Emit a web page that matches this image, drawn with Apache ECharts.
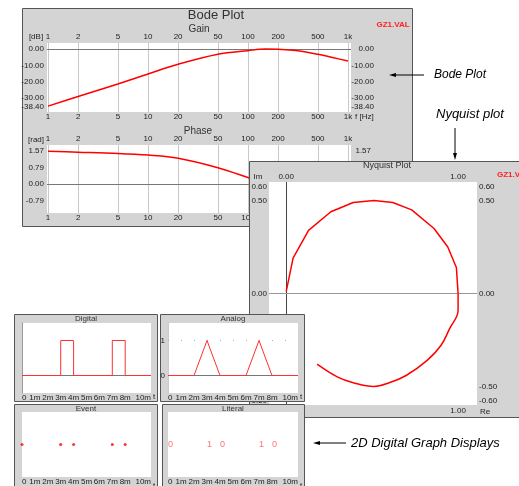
<!DOCTYPE html>
<html><head><meta charset="utf-8">
<script src="https://cdn.jsdelivr.net/npm/echarts@6/dist/echarts.min.js"></script>
<style>html,body{margin:0;padding:0;background:#fff}#c{width:519px;height:486px}</style>
</head><body><div id="c"></div>
<script>
// ---- data ----
const bodeFreqTicks = [1, 2, 5, 10, 20, 50, 100, 200, 500, 1000];
const gainFreq = [1, 2, 5, 10, 20, 50, 100, 150, 200, 300, 500, 700, 1000];
const gainDb = [-34.8, -29.0, -21.3, -15.2, -9.3, -3.2, -1.0, -0.05, -0.2, -0.9, -3.2, -5.2, -7.3];
const gainTicks = [-38.4, -30, -20, -10, 0];
const phaseFreq = [1, 2, 5, 10, 20, 50, 100, 150, 200, 500, 1000];
const phaseRad = [1.56, 1.52, 1.46, 1.38, 1.23, 0.78, 0.31, 0.02, -0.22, -0.78, -1.14];
const phaseTicks = [-0.79, 0, 0.79, 1.57];
// Nyquist: upper half (coarse polyline) and lower half (fine, smooth)
const nyqUpperRe = [0.00, 0.04, 0.13, 0.26, 0.39, 0.51, 0.62, 0.73, 0.86, 0.94, 0.99, 1.00];
const nyqUpperIm = [0.01, 0.19, 0.34, 0.44, 0.49, 0.50, 0.49, 0.45, 0.35, 0.25, 0.14, 0.00];
const nyqLowerRe = [1.00, 1.00, 0.95, 0.90, 0.82, 0.70, 0.60, 0.51, 0.39, 0.30, 0.18];
const nyqLowerIm = [0.00, -0.09, -0.19, -0.28, -0.36, -0.44, -0.48, -0.50, -0.48, -0.45, -0.38];
const nyqXTicks = [0, 1];
const nyqYTicks = [-0.6, -0.5, 0, 0.5, 0.6];
const timeTicks = [0, 1, 2, 3, 4, 5, 6, 7, 8, 10];
const digitalT = [0, 3, 4, 7, 8, 10];
const digitalV = [0, 1, 0, 1, 0, 0];
const analogT = [0, 2, 3, 4, 6, 7, 8, 10];
const analogV = [0, 0, 1, 0, 0, 1, 0, 0];
const analogTicks = [0, 1];
const eventT = [0, 3, 4, 7, 8];
const literalT = [0, 3, 4, 7, 8];
const literalText = ['0', '1', '0', '1', '0'];

// ---- helpers ----
const FONT = "'Liberation Sans', Arial, sans-serif";
const zip = (a, b) => a.map((v, i) => [v, b[i]]);
const L = (o) => Object.assign({ fontSize: 8, fontFamily: FONT, color: '#222' }, o || {});
const fmtF = v => v >= 1000 ? (v / 1000) + 'k' : String(Math.round(v));
const fmt2 = v => Number(v).toFixed(2);
const fmtT = v => v === 0 ? '0' : v + 'm';
const off = { show: false };
const near = (a, b) => Math.abs(a - b) < 1e-6;

function ax(o) {
  return Object.assign({ axisLine: off, axisTick: off, splitLine: off, minorTick: off, minorSplitLine: off }, o);
}
function freqAxis(grid, pos, split, z, margin) {
  return ax({
    type: 'log', logBase: 10, gridIndex: grid, position: pos, min: 0.977, max: 1072, z: z,
    axisTick: { show: false, customValues: bodeFreqTicks },
    axisLabel: L({ customValues: bodeFreqTicks, formatter: fmtF, margin: margin }),
    splitLine: { show: split, lineStyle: { color: '#c8c8c8', width: 1 } }
  });
}
function timeAxis(grid, z, margin) {
  return ax({
    type: 'value', gridIndex: grid, min: 0, max: 10, z: z,
    axisTick: { show: false, customValues: timeTicks },
    axisLabel: L({ customValues: timeTicks, formatter: fmtT, margin: margin, alignMaxLabel: 'right', alignMinLabel: 'left' })
  });
}
const richBase = { fontSize: 8, fontFamily: FONT, color: '#222' };
const gainFmt = v => near(v, -38.4) ? '{lo|-38.40}' : fmt2(v);
const gainRich = { lo: Object.assign({ padding: [0, 0, 10, 0] }, richBase) };
const nyqYFmt = v => near(v, 0.6) ? '{hi|0.60}' : near(v, -0.6) ? '{lo|-0.60}' : fmt2(v);
const nyqRich = { hi: Object.assign({ padding: [10, 0, 0, 0] }, richBase), lo: Object.assign({ padding: [0, 0, 8, 0] }, richBase) };

// ---- graphics ----
function rect(x, y, w, h, z, fill, stroke) {
  return { type: 'rect', z: z, silent: true, shape: { x: x, y: y, width: w, height: h },
    style: { fill: fill || '#d4d4d4', stroke: stroke || '#555', lineWidth: 1 } };
}
function txt(t, x, y, z, font, fill, align) {
  return { type: 'text', z: z, silent: true, x: x, y: y,
    style: { text: t, font: font, fill: fill || '#222', textAlign: align || 'center', textVerticalAlign: 'middle' } };
}
function line(x1, y1, x2, y2, z) {
  return { type: 'line', z: z, silent: true, shape: { x1: x1, y1: y1, x2: x2, y2: y2 }, style: { stroke: '#000', lineWidth: 1 } };
}
function poly(pts, z) {
  return { type: 'polygon', z: z, silent: true, shape: { points: pts }, style: { fill: '#000' } };
}
const f8 = "8px " + FONT;
const graphics = [
  rect(22.5, 8.5, 390, 218, 1),
  txt('Bode Plot', 216, 15, 1.5, "13px " + FONT, '#333'),
  txt('GZ1.VAL', 393, 25, 1.5, "bold 8px " + FONT, '#ff2020'),
  txt('Gain', 199, 29, 1.5, "10px " + FONT, '#333'),
  txt('[dB]', 36, 37, 1.5, f8),
  txt('f [Hz]', 355, 117, 1.5, f8, '#222', 'left'),
  txt('Phase', 198, 131, 1.5, "10px " + FONT, '#333'),
  txt('[rad]', 36, 140, 1.5, f8),
  txt('f [Hz]', 355, 218, 1.5, f8, '#222', 'left'),

  rect(249.5, 161.5, 290, 256, 10),
  txt('Nyquist Plot', 387, 166, 10.5, "9px " + FONT, '#333'),
  txt('GZ1.VAL', 497, 175, 10.5, "bold 8px " + FONT, '#ff2020', 'left'),
  txt('Im', 258, 177, 10.5, f8),
  txt('Re', 485, 412, 10.5, f8),

  rect(14.5, 314.5, 143, 87, 20),
  rect(160.5, 314.5, 144, 87, 20),
  rect(14.5, 404.5, 143, 95, 20),
  rect(162.5, 404.5, 142, 95, 20),
  txt('Digital', 86, 319, 20.5, f8, '#333'),
  txt('Analog', 233, 319, 20.5, f8, '#333'),
  txt('Event', 86, 409, 20.5, f8, '#333'),
  txt('Literal', 233, 409, 20.5, f8, '#333'),
  txt('t', 154, 397, 20.5, f8),
  txt('t', 301, 397, 20.5, f8),
  txt('t', 154, 486, 20.5, f8),
  txt('t', 301, 486, 20.5, f8),

  txt('Bode Plot', 434, 75, 30, "italic 12px " + FONT, '#000', 'left'),
  line(392, 75, 424, 75, 30), poly([[389, 75], [396, 73], [396, 77]], 30),
  txt('Nyquist plot', 436, 114, 30, "italic 13px " + FONT, '#000', 'left'),
  line(455, 128, 455, 156, 30), poly([[455, 160], [453, 153], [457, 153]], 30),
  txt('2D Digital Graph Displays', 351, 443, 30, "italic 13px " + FONT, '#000', 'left'),
  line(316, 443, 346, 443, 30), poly([[313, 443], [320, 441], [320, 445]], 30)
];

// ---- grids ----
const grid = [
  { left: 47, top: 43, width: 304, height: 69, z: 2 },
  { left: 47, top: 145, width: 304, height: 68, z: 2 },
  { left: 269, top: 182, width: 208, height: 223, z: 11 },
  { left: 22, top: 323, width: 129, height: 70, z: 21 },
  { left: 168, top: 323, width: 130, height: 70, z: 21 },
  { left: 22, top: 412, width: 129, height: 69, z: 21 },
  { left: 168, top: 412, width: 130, height: 69, z: 21 }
].map(g => Object.assign({ show: true, backgroundColor: '#fff', borderWidth: 0 }, g));

const xAxis = [
  freqAxis(0, 'bottom', true, 3, 1),
  freqAxis(0, 'top', false, 3, 2),
  freqAxis(1, 'bottom', true, 3, 1),
  freqAxis(1, 'top', false, 3, 2),
  ax({ type: 'value', gridIndex: 2, position: 'bottom', min: -0.1, max: 1.11, z: 12,
       axisTick: { show: false, customValues: nyqXTicks }, axisLabel: L({ customValues: nyqXTicks, formatter: fmt2, margin: 2 }) }),
  ax({ type: 'value', gridIndex: 2, position: 'top', min: -0.1, max: 1.11, z: 12,
       axisTick: { show: false, customValues: nyqXTicks }, axisLabel: L({ customValues: nyqXTicks, formatter: fmt2, margin: 1 }) }),
  timeAxis(3, 22, 1), timeAxis(4, 22, 1), timeAxis(5, 22, 1), timeAxis(6, 22, 1)
];

const yAxis = [
  ax({ type: 'value', gridIndex: 0, position: 'left', min: -38.4, max: 3.66, z: 3,
       axisTick: { show: false, customValues: gainTicks }, axisLabel: L({ customValues: gainTicks, formatter: gainFmt, rich: gainRich, margin: 3 }) }),
  ax({ type: 'value', gridIndex: 0, position: 'right', min: -38.4, max: 3.66, z: 3,
       axisTick: { show: false, customValues: gainTicks }, axisLabel: L({ customValues: gainTicks, formatter: gainFmt, rich: gainRich, margin: 23, align: 'right' }) }),
  ax({ type: 'value', gridIndex: 1, position: 'left', min: -1.38, max: 1.86, z: 3,
       axisTick: { show: false, customValues: phaseTicks }, axisLabel: L({ customValues: phaseTicks, formatter: fmt2, margin: 3 }) }),
  ax({ type: 'value', gridIndex: 1, position: 'right', min: -1.38, max: 1.86, z: 3,
       axisTick: { show: false, customValues: phaseTicks }, axisLabel: L({ customValues: phaseTicks, formatter: fmt2, margin: 20, align: 'right' }) }),
  ax({ type: 'value', gridIndex: 2, position: 'left', min: -0.6, max: 0.6, z: 12,
       axisTick: { show: false, customValues: nyqYTicks }, axisLabel: L({ customValues: nyqYTicks, formatter: nyqYFmt, rich: nyqRich, margin: 2 }) }),
  ax({ type: 'value', gridIndex: 2, position: 'right', min: -0.6, max: 0.6, z: 12,
       axisTick: { show: false, customValues: nyqYTicks }, axisLabel: L({ customValues: nyqYTicks, formatter: nyqYFmt, rich: nyqRich, margin: 2 }) }),
  ax({ type: 'value', gridIndex: 3, min: -0.5, max: 1.5, z: 22, axisLabel: { show: false },
       axisLine: { show: true, onZero: false, lineStyle: { color: '#999' } } }),
  ax({ type: 'value', gridIndex: 4, min: -0.5, max: 1.5, z: 22,
       axisTick: { show: false, customValues: analogTicks }, axisLabel: L({ customValues: analogTicks, margin: 3 }),
       axisLine: { show: true, onZero: false, lineStyle: { color: '#ccc' } } }),
  ax({ type: 'value', gridIndex: 5, min: -1, max: 1, z: 22, axisLabel: { show: false } }),
  ax({ type: 'value', gridIndex: 6, min: -1, max: 1, z: 22, axisLabel: { show: false } })
];

function zeroLine(z, items) {
  return { silent: true, symbol: 'none', z: z, animation: false, label: { show: false }, data: items };
}
const red = { color: '#ff0000', width: 1.5 };
const series = [
  { type: 'line', xAxisIndex: 0, yAxisIndex: 0, z: 4, data: zip(gainFreq, gainDb), smooth: 0.35, showSymbol: false,
    lineStyle: red,
    markLine: zeroLine(3.5, [{ yAxis: 0, lineStyle: { color: '#777', width: 1, type: 'solid' } }]) },
  { type: 'line', xAxisIndex: 2, yAxisIndex: 2, z: 4, data: zip(phaseFreq, phaseRad), smooth: 0.35, showSymbol: false,
    lineStyle: red,
    markLine: zeroLine(3.5, [{ yAxis: 0, lineStyle: { color: '#777', width: 1, type: 'solid' } }]) },
  { type: 'line', xAxisIndex: 4, yAxisIndex: 4, z: 13, data: zip(nyqUpperRe, nyqUpperIm), showSymbol: false,
    lineStyle: red,
    markLine: zeroLine(12.5, [
      { xAxis: 0, lineStyle: { color: '#444', width: 1, type: 'solid' } },
      { yAxis: 0, lineStyle: { color: '#999', width: 1, type: 'solid' } }]) },
  { type: 'line', xAxisIndex: 4, yAxisIndex: 4, z: 13, data: zip(nyqLowerRe, nyqLowerIm), showSymbol: false, smooth: 0.4,
    lineStyle: red },
  { type: 'line', xAxisIndex: 6, yAxisIndex: 6, z: 23, data: zip(digitalT, digitalV), step: 'end', showSymbol: false,
    lineStyle: { color: '#ff3030', width: 1 },
    markLine: zeroLine(22.5, [{ yAxis: 0, lineStyle: { color: '#777', width: 1, type: 'solid' } }]) },
  { type: 'line', xAxisIndex: 7, yAxisIndex: 7, z: 23, data: zip(analogT, analogV), showSymbol: false,
    lineStyle: { color: '#ff3030', width: 1 },
    markLine: zeroLine(22.5, [
      { yAxis: 0, lineStyle: { color: '#777', width: 1, type: 'solid' } },
      { yAxis: 1, lineStyle: { color: '#aaa', width: 1, type: [1, 12] } }]) },
  { type: 'scatter', xAxisIndex: 8, yAxisIndex: 8, z: 23, data: eventT.map(t => [t, 0]), symbolSize: 3,
    itemStyle: { color: '#ff0000' } },
  { type: 'scatter', xAxisIndex: 9, yAxisIndex: 9, z: 23, data: literalT.map((t, i) => [t, 0, literalText[i]]), symbolSize: 0,
    label: { show: true, position: 'right', distance: 0, formatter: p => p.data[2], fontSize: 9, fontFamily: FONT, color: '#ff5050' } }
];

const chart = echarts.init(document.getElementById('c'));
chart.setOption({ animation: false, graphic: { elements: graphics }, grid: grid, xAxis: xAxis, yAxis: yAxis, series: series });
</script></body></html>
